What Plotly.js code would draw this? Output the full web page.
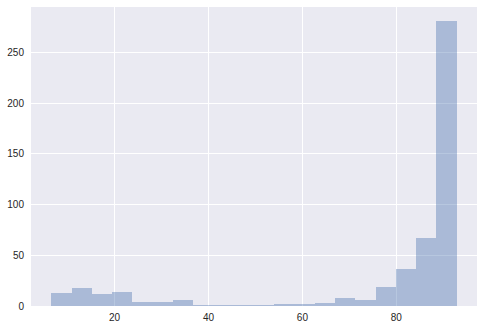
<!DOCTYPE html>
<html>
<head>
<meta charset="utf-8">
<script src="https://cdn.plot.ly/plotly-3.0.1.min.js"></script>
<style>html,body{margin:0;padding:0;background:#fff;}#chart{width:484px;height:330px;}</style>
</head>
<body>
<div id="chart"></div>
<script>
// Histogram: 20 equal bins between binLow and binHigh
const binLow = 6.53;
const binHigh = 92.85;
const counts = [13, 18, 12, 14, 4, 4, 6, 1, 1, 1, 1, 2, 2, 3, 8, 6, 19, 37, 67, 281];
const xTickVals = [20, 40, 60, 80];
const yTickVals = [0, 50, 100, 150, 200, 250];

const nBins = counts.length;
const w = (binHigh - binLow) / nBins;
const centers = counts.map((_, i) => binLow + w * (i + 0.5));
const span = binHigh - binLow;

const trace = {
  type: 'bar',
  x: centers,
  y: counts,
  width: counts.map(() => w),
  marker: {color: 'rgba(76,114,176,0.4)', line: {width: 0}},
  hoverinfo: 'skip'
};

const layout = {
  width: 484, height: 330,
  margin: {l: 31, r: 7, t: 7, b: 24, pad: 0},
  paper_bgcolor: '#ffffff',
  plot_bgcolor: '#EAEAF2',
  showlegend: false,
  bargap: 0,
  font: {family: 'Liberation Sans, Arial, sans-serif', size: 10, color: '#262626'},
  xaxis: {
    range: [binLow - 0.05 * span, binHigh + 0.05 * span],
    tickvals: xTickVals,
    ticktext: xTickVals.map(String),
    showgrid: true, gridcolor: '#ffffff', gridwidth: 1,
    zeroline: false, showline: false, ticks: '',
    ticklabelstandoff: 4
  },
  yaxis: {
    range: [0, Math.max(...counts) * 1.05],
    tickvals: yTickVals,
    ticktext: yTickVals.map(String),
    showgrid: true, gridcolor: '#ffffff', gridwidth: 1,
    zeroline: false, showline: false, ticks: '',
    ticklabelstandoff: 6
  }
};

Plotly.newPlot('chart', [trace], layout, {staticPlot: true, displayModeBar: false});
</script>
</body>
</html>
